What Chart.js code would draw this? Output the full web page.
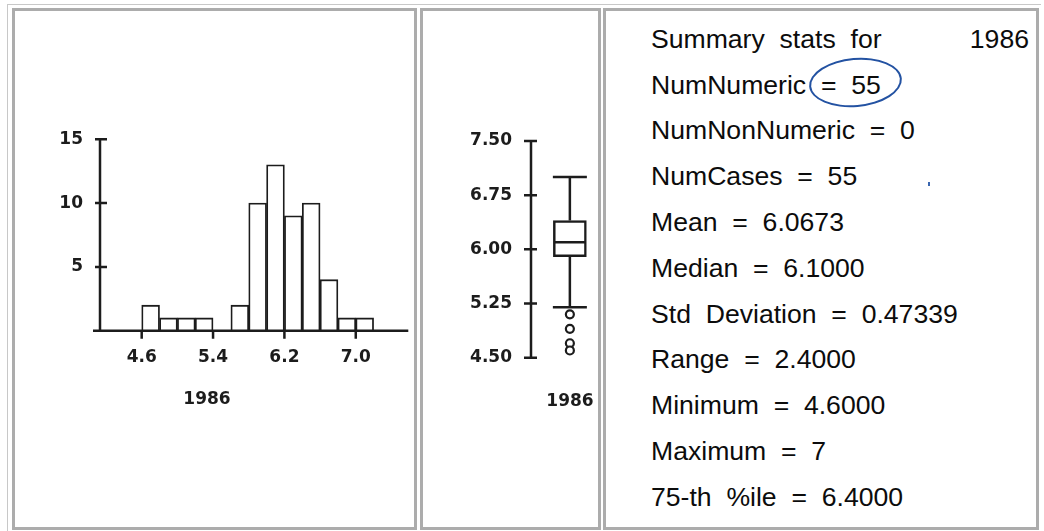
<!DOCTYPE html>
<html>
<head>
<meta charset="utf-8">
<script src="https://cdn.jsdelivr.net/npm/chart.js@4.4.1/dist/chart.umd.min.js"></script>
<style>
  html, body { margin: 0; padding: 0; background: #fff; }
  body { width: 1044px; height: 531px; position: relative; overflow: hidden; }
  .outer { position: absolute; left: 7px; top: 4px; width: 1033px; height: 530px; border-top: 1px solid #c8c8c8; border-left: 1px solid #c8c8c8; }
  .frame { position: absolute; top: 8px; height: 522px; border: 3px solid #acacac; box-sizing: border-box; }
  .plot { position: absolute; top: 10px; height: 518px; }
  .lbl { position: absolute; font: bold 17px "DejaVu Sans", sans-serif; color: #1c1c1c; transform: translate(-50%, -50%); white-space: nowrap; }
  .stats { position: absolute; top: 16.7px; font: 26.6px "Liberation Sans", Arial, sans-serif; line-height: 45.82px; color: #0c0c0c; white-space: pre; }
  .ring { position: absolute; left: 809px; top: 58px; width: 93px; height: 49px; border: 2.5px solid #2352a2; border-radius: 50%; box-sizing: border-box; transform: rotate(-5deg); }
  .dot { position: absolute; left: 928px; top: 182px; width: 2px; height: 4px; background: #3a66b0; }
</style>
</head>
<body>
<div class="outer"></div>
<div class="frame" style="left:12px; width:405px;"></div>
<div class="frame" style="left:420px; width:181px;"></div>
<div class="frame" style="left:603px; width:436px;"></div>

<div class="plot" style="left:13px; width:400px;"><canvas id="hist"></canvas></div>
<div class="plot" style="left:423px; width:174px;"><canvas id="boxplot"></canvas></div>

<div class="lbl" id="histTitle" style="left:207px; top:398px;"></div>
<div class="lbl" id="boxTitle" style="left:570px; top:400px;"></div>

<div class="stats" id="stats" style="left:651px;"></div>
<div class="stats" id="statsYear" style="right:15px; text-align:right;"></div>
<div class="ring"></div>
<div class="dot"></div>

<script>
const year = '1986';

// histogram: bins of width 0.2, given by their centres
const binCentres = [4.7, 4.9, 5.1, 5.3, 5.5, 5.7, 5.9, 6.1, 6.3, 6.5, 6.7, 6.9, 7.1];
const binCounts = [2, 1, 1, 1, 0, 2, 10, 13, 9, 10, 4, 1, 1];
const histXTicks = [4.6, 5.4, 6.2, 7.0];
const histYTicks = [5, 10, 15];

// box plot: lower whisker, Q1, median, Q3, upper whisker
const boxStats = [5.2, 5.9, 6.1, 6.4, 7.0];
const boxOutliers = [5.1, 4.9, 4.7, 4.6];
const boxYTicks = [4.5, 5.25, 6.0, 6.75, 7.5];

// summary panel
const statNames = ['NumNumeric', 'NumNonNumeric', 'NumCases', 'Mean', 'Median',
  'Std  Deviation', 'Range', 'Minimum', 'Maximum', '75-th  %ile'];
const statValues = ['55', '0', '55', '6.0673', '6.1000', '0.47339', '2.4000', '4.6000', '7', '6.4000'];

const ink = '#1c1c1c';
const tickFont = { family: 'DejaVu Sans', size: 17, weight: 'bold' };

document.getElementById('histTitle').textContent = year;
document.getElementById('boxTitle').textContent = year;
document.getElementById('stats').textContent =
  ['Summary  stats  for'].concat(statNames.map((n, i) => n + '  =  ' + statValues[i])).join('\n');
document.getElementById('statsYear').textContent = year;

// axis lines and tick marks drawn in the old plotting-program style
const histAxes = {
  id: 'histAxes',
  afterDraw(chart) {
    const { ctx, chartArea: a, scales: { x, y } } = chart;
    ctx.save();
    ctx.strokeStyle = ink;
    ctx.lineWidth = 2.5;
    ctx.beginPath();
    ctx.moveTo(a.left, y.getPixelForValue(15));
    ctx.lineTo(a.left, a.bottom);
    ctx.moveTo(a.left - 7, a.bottom);
    ctx.lineTo(a.right, a.bottom);
    histYTicks.forEach(v => {
      const py = y.getPixelForValue(v);
      ctx.moveTo(a.left - 5, py);
      ctx.lineTo(a.left + 7, py);
    });
    histXTicks.forEach(v => {
      const px = x.getPixelForValue(v);
      ctx.moveTo(px, a.bottom);
      ctx.lineTo(px, a.bottom + 8);
    });
    ctx.stroke();
    ctx.restore();
  }
};

new Chart(document.getElementById('hist'), {
  type: 'bar',
  data: {
    datasets: [{
      data: binCentres.map((c, i) => ({ x: c, y: binCounts[i] })),
      backgroundColor: '#fff',
      borderColor: ink,
      borderWidth: 1.8,
      borderSkipped: 'bottom',
      barPercentage: 1,
      categoryPercentage: 1
    }]
  },
  options: {
    responsive: true,
    maintainAspectRatio: false,
    animation: false,
    events: [],
    layout: { padding: { left: 0, top: 129.3, right: 4.7, bottom: 157.3 } },
    plugins: { legend: { display: false }, tooltip: { enabled: false } },
    scales: {
      x: {
        type: 'linear', offset: false, min: 4.1325, max: 7.589,
        grid: { display: false, drawTicks: false },
        border: { display: false },
        afterBuildTicks: s => { s.ticks = histXTicks.map(v => ({ value: v })); },
        afterFit: s => { s.height = 40; },
        ticks: { font: tickFont, color: ink, padding: 17, autoSkip: false, maxRotation: 0, callback: v => v.toFixed(1) }
      },
      y: {
        min: 0, max: 15,
        grid: { display: false, drawTicks: false },
        border: { display: false },
        afterBuildTicks: s => { s.ticks = histYTicks.map(v => ({ value: v })); },
        afterFit: s => { s.width = 87; },
        ticks: { font: tickFont, color: ink, padding: 17, callback: v => String(v) }
      }
    }
  },
  plugins: [histAxes]
});

const boxParts = {
  id: 'boxParts',
  beforeDatasetsDraw(chart) {
    const { ctx, scales: { x, y } } = chart;
    const cx = x.getPixelForValue(0);
    ctx.save();
    ctx.strokeStyle = ink;
    ctx.lineWidth = 2.5;
    ctx.beginPath();
    ctx.moveTo(cx, y.getPixelForValue(boxStats[4]));
    ctx.lineTo(cx, y.getPixelForValue(boxStats[3]));
    ctx.moveTo(cx, y.getPixelForValue(boxStats[1]));
    ctx.lineTo(cx, y.getPixelForValue(boxStats[0]));
    [boxStats[0], boxStats[4]].forEach(v => {
      const py = y.getPixelForValue(v);
      ctx.moveTo(cx - 17, py);
      ctx.lineTo(cx + 17, py);
    });
    ctx.stroke();
    ctx.restore();
  },
  afterDatasetsDraw(chart) {
    const { ctx, scales: { x, y } } = chart;
    const cx = x.getPixelForValue(0);
    const py = y.getPixelForValue(boxStats[2]);
    ctx.save();
    ctx.strokeStyle = ink;
    ctx.lineWidth = 2.5;
    ctx.beginPath();
    ctx.moveTo(cx - 16, py);
    ctx.lineTo(cx + 16, py);
    ctx.stroke();
    ctx.restore();
  },
  afterDraw(chart) {
    const { ctx, chartArea: a, scales: { y } } = chart;
    ctx.save();
    ctx.strokeStyle = ink;
    ctx.lineWidth = 2.5;
    ctx.beginPath();
    ctx.moveTo(a.left, a.top);
    ctx.lineTo(a.left, a.bottom);
    boxYTicks.forEach(v => {
      const py = y.getPixelForValue(v);
      ctx.moveTo(a.left - 7, py);
      ctx.lineTo(a.left + 6, py);
    });
    ctx.stroke();
    ctx.restore();
  }
};

new Chart(document.getElementById('boxplot'), {
  type: 'bar',
  data: {
    datasets: [{
      data: [{ x: 0, y: [boxStats[1], boxStats[3]] }],
      backgroundColor: '#fff',
      borderColor: ink,
      borderWidth: 2.5,
      borderSkipped: false,
      barThickness: 33
    }, {
      type: 'scatter',
      data: boxOutliers.map(v => ({ x: 0, y: v })),
      pointRadius: 4,
      pointBorderWidth: 2.2,
      pointBackgroundColor: '#fff',
      pointBorderColor: ink
    }]
  },
  options: {
    responsive: true,
    maintainAspectRatio: false,
    animation: false,
    events: [],
    layout: { padding: { left: 0, top: 131, right: 4, bottom: 170.3 } },
    plugins: { legend: { display: false }, tooltip: { enabled: false } },
    scales: {
      x: { type: 'linear', offset: false, min: -1.3, max: 0.7, display: false },
      y: {
        min: 4.5, max: 7.5,
        grid: { display: false, drawTicks: false },
        border: { display: false },
        afterBuildTicks: s => { s.ticks = boxYTicks.map(v => ({ value: v })); },
        afterFit: s => { s.width = 108; },
        ticks: { font: tickFont, color: ink, padding: 19, callback: v => v.toFixed(2) }
      }
    }
  },
  plugins: [boxParts]
});
</script>
</body>
</html>
